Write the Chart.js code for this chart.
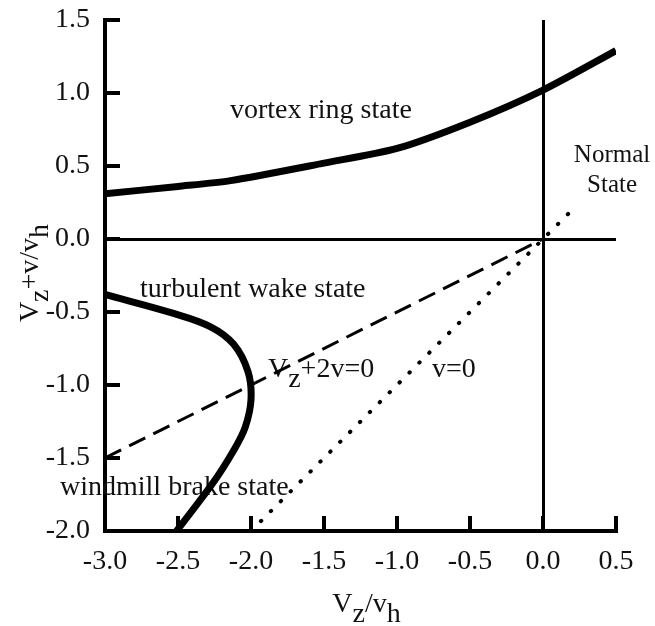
<!DOCTYPE html>
<html>
<head>
<meta charset="utf-8">
<script src="https://cdn.jsdelivr.net/npm/chart.js@4.4.1/dist/chart.umd.min.js"></script>
<style>
  html, body { margin: 0; padding: 0; background: #fff; }
  #wrap { width: 655px; height: 626px; }
</style>
</head>
<body>
<div id="wrap"><canvas id="states"></canvas></div>
<script>
// axis ticks
const xTicks = [-3.0, -2.5, -2.0, -1.5, -1.0, -0.5, 0.0, 0.5];
const yTicks = [-2.0, -1.5, -1.0, -0.5, 0.0, 0.5, 1.0, 1.5];

// vortex ring state boundary
const vortexX = [-3.0, -2.5, -2.14, -1.5, -1.0, -0.5, 0.0, 0.5];
const vortexY = [0.31, 0.36, 0.40, 0.52, 0.62, 0.80, 1.02, 1.29];

// turbulent wake / windmill brake boundary
const wakeX = [-3.0, -2.53, -2.28, -2.12, -2.02, -2.0, -2.04, -2.12, -2.26, -2.51];
const wakeY = [-0.38, -0.51, -0.60, -0.72, -0.91, -1.10, -1.29, -1.45, -1.67, -2.0];

// Vz + 2v = 0
const dashX = [-3.0, 0.0];
const dashY = [-1.5, 0.0];

// v = 0
const dotX = [-2.0, 0.22];
const dotY = [-2.0, 0.22];

// text in the plot, [text, subscript?]
const notes = [
  {parts: [['vortex ring state', 0]], x: -2.144, y: 0.829},
  {parts: [['Normal', 0]], x: 0.473, y: 0.527, align: 'center', size: 25},
  {parts: [['State', 0]], x: 0.473, y: 0.322, align: 'center', size: 25},
  {parts: [['turbulent wake state', 0]], x: -2.76, y: -0.397},
  {parts: [['V', 0], ['z', 1], ['+2v=0', 0]], x: -1.884, y: -0.945},
  {parts: [['v=0', 0]], x: -0.76, y: -0.945},
  {parts: [['windmill brake state', 0]], x: -3.308, y: -1.753}
];
const xTitle = [['V', 0], ['z', 1], ['/v', 0], ['h', 1]];
const yTitle = [['V', 0], ['z', 1], ['+v/v', 0], ['h', 1]];

const serif = "'Liberation Serif', 'Times New Roman', serif";

var zip = function(xs, ys) {
  return xs.map((x, i) => ({x: x, y: ys[i]}));
}

var drawParts = function(ctx, parts, x, y, size, align) {
  ctx.font = size + 'px ' + serif;
  let total = 0;
  parts.forEach(p => total += ctx.measureText(p[0]).width);
  let cx = align === 'center' ? x - total / 2 : x;
  ctx.textAlign = 'left';
  ctx.textBaseline = 'alphabetic';
  parts.forEach(p => {
    ctx.fillText(p[0], cx, y + (p[1] ? 10 : 0));
    cx += ctx.measureText(p[0]).width;
  });
}

const textPlugin = {
  id: 'texts',
  beforeDatasetsDraw(chart) {
    const ctx = chart.ctx;
    const xs = chart.scales.x, ys = chart.scales.y;
    ctx.save();
    ctx.fillStyle = '#111';
    notes.forEach(n => {
      drawParts(ctx, n.parts, xs.getPixelForValue(n.x), ys.getPixelForValue(n.y), n.size || 28, n.align);
    });
    ctx.restore();
  },
  afterDraw(chart) {
    const ctx = chart.ctx;
    const xs = chart.scales.x, ys = chart.scales.y;
    const area = chart.chartArea;
    ctx.save();
    // inward tick marks
    ctx.strokeStyle = '#000';
    ctx.lineWidth = 4;
    ctx.beginPath();
    xTicks.forEach(v => {
      const px = xs.getPixelForValue(v);
      ctx.moveTo(px, area.bottom);
      ctx.lineTo(px, area.bottom - 15);
    });
    yTicks.forEach(v => {
      const py = ys.getPixelForValue(v);
      ctx.moveTo(area.left, py);
      ctx.lineTo(area.left + 15, py);
    });
    ctx.stroke();
    // axis titles
    ctx.fillStyle = '#111';
    drawParts(ctx, xTitle, (area.left + area.right) / 2 + 6, 612, 28, 'center');
    ctx.translate(38, 273);
    ctx.rotate(-Math.PI / 2);
    drawParts(ctx, yTitle, 0, 0, 28, 'center');
    ctx.restore();
  }
};

var zeroLine = function(c) {
  return c.tick && c.tick.value === 0 ? '#000' : 'rgba(0,0,0,0)';
}

var noPad = function(s) {
  s.paddingTop = 0;
  s.paddingBottom = 0;
  s.paddingLeft = 0;
  s.paddingRight = 0;
}

const ctx = document.getElementById('states');
const chart = new Chart(ctx, {
  type: 'scatter',
  data: {
    datasets: [{
      data: zip(vortexX, vortexY),
      showLine: true,
      borderColor: '#000',
      borderWidth: 7,
      pointRadius: 0,
      tension: 0.25
    }, {
      data: zip(wakeX, wakeY),
      showLine: true,
      borderColor: '#000',
      borderWidth: 7,
      pointRadius: 0,
      tension: 0.35
    }, {
      data: zip(dashX, dashY),
      showLine: true,
      borderColor: '#000',
      borderWidth: 3,
      borderDash: [18, 9],
      pointRadius: 0
    }, {
      data: zip(dotX, dotY),
      showLine: true,
      borderColor: '#000',
      borderWidth: 4,
      borderCapStyle: 'round',
      borderDash: [0.5, 13.5],
      pointRadius: 0
    }]
  },
  options: {
    responsive: true,
    maintainAspectRatio: false,
    animation: false,
    layout: {
      padding: {top: 20, right: 39, left: 0, bottom: 0}
    },
    plugins: {
      legend: {display: false},
      tooltip: {enabled: false}
    },
    scales: {
      x: {
        type: 'linear',
        min: -3.0,
        max: 0.5,
        afterBuildTicks: s => { s.ticks = xTicks.map(v => ({value: v})); },
        afterFit: s => { s.height = 95; noPad(s); },
        ticks: {
          font: {family: serif, size: 28},
          color: '#111',
          padding: 14,
          maxRotation: 0,
          callback: v => Number(v).toFixed(1)
        },
        grid: {drawTicks: false, color: zeroLine, lineWidth: 3},
        border: {color: '#000', width: 4}
      },
      y: {
        type: 'linear',
        min: -2.0,
        max: 1.5,
        afterBuildTicks: s => { s.ticks = yTicks.map(v => ({value: v})); },
        afterFit: s => { s.width = 105; noPad(s); },
        ticks: {
          font: {family: serif, size: 28},
          color: '#111',
          padding: 15,
          callback: v => Number(v).toFixed(1)
        },
        grid: {drawTicks: false, color: zeroLine, lineWidth: 3},
        border: {color: '#000', width: 4}
      }
    }
  },
  plugins: [textPlugin]
});
</script>
</body>
</html>
